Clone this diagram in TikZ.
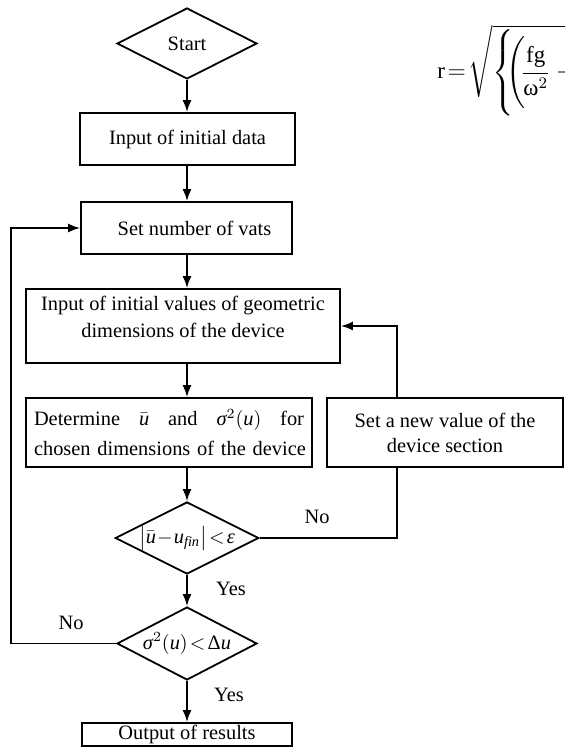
\documentclass[tikz,border=0pt]{standalone}
\usepackage{amsmath}
\usepackage{fontspec}
\setmainfont{Liberation Serif}
\usetikzlibrary{shapes.geometric,arrows.meta}

\tikzset{
  block/.style={draw, rectangle, line width=0.9pt, inner sep=2pt, align=center},
  decision/.style={draw, diamond, aspect=2, inner sep=0pt, line width=0.9pt},
  flow/.style={line width=0.9pt},
}

\begin{document}
\begin{tikzpicture}[x=0.5pt, y=-0.5pt, >={Latex[length=6pt,width=4.5pt]},
    font=\fontsize{10.2}{13}\selectfont]

    \useasboundingbox (0,0) rectangle (565,747);

    \coordinate (axis) at (187,0);
    \coordinate (riser) at (397,432);
    \coordinate (return) at (11,643);

    \node [decision, minimum width=70pt, minimum height=35.5pt] (start) at (187,43.5) {Start};
    \node [block, minimum width=107.5pt, minimum height=26pt] (data) at (187.5,139) {Input of initial data};
    \node [block, minimum width=105.5pt, minimum height=26pt] (vats) at (186.5,228)
      {\hspace*{8pt}Set number of vats};
    \node [block, minimum width=157pt, minimum height=37pt, text depth=9pt,
      font=\fontsize{10.2}{13.5}\selectfont]
      (geom) at (183,326) {Input of initial values of geometric\\dimensions of the device};
    \node [block, align=left, text width=135pt, inner xsep=4pt, minimum height=34.5pt,
      font=\fontsize{10.2}{15}\selectfont] (det) at (169,432.5)
      {Determine\hfill$\bar{\textit{u}}$\hfill and\hfill$\textit{σ}^{2}(\textit{u})$\hfill for\\\mbox{chosen dimensions of the device}};
    \node [block, minimum width=118pt, minimum height=34.5pt, font=\fontsize{10.2}{12.5}\selectfont]
      (newsec) at (445,432.5) {Set a new value of the\\device section};
    \node [decision, minimum width=70.5pt, minimum height=36pt] (test) at (187,538)
      {$\left|\bar{\textit{u}}\!-\!\textit{u}_{\textit{fin}}\right|\!<\!\textit{ε}$};
    \node [decision, minimum width=70pt, minimum height=36.5pt] (var) at (187,643.5)
      {$\textit{σ}^{2}(\textit{u})\!<\!\textup{Δ}\textit{u}$};
    \node [block, minimum width=105pt, minimum height=11.5pt, inner ysep=0.5pt] (out) at (187,734.5) {Output of results};

    \node (no-1) at (317,517) {No};
    \node (yes-1) at (231,589) {Yes};
    \node (no-2) at (71,623) {No};
    \node (yes-2) at (229,695) {Yes};

    \foreach \a/\b in {start/data, data/vats, vats/geom, geom/det, det/test, test/var, var/out}
      \draw [flow, ->] (\a.south -| axis) -- (\b.north -| axis);

    \draw [flow] (test.east) -| (newsec.south -| riser);
    \draw [flow, ->] (newsec.north -| riser) |- (geom.east);
    \draw [flow, ->] (var.west) -- (var.west -| return) |- (vats.west);

    % formula cut at the right edge
    \begin{scope}
      \clip (0,0) rectangle (565,747);
      \node [anchor=base west, inner sep=0pt, font=\fontsize{11.5}{13}\selectfont] (radius) at (437,79)
        {$\displaystyle\mathrm{r}\!=\!\sqrt{\vphantom{\rule[-9pt]{0pt}{33pt}}\smash{\left\{\rule[-18pt]{0pt}{37pt}\!\!\!\left(\rule[-15pt]{0pt}{30pt}\!\frac{\mathrm{fg}}{\text{ω}^{2}\rule{0pt}{8.5pt}}-\mathrm{r}\right)\right\}}}$};
    \end{scope}

\end{tikzpicture}
\end{document}
